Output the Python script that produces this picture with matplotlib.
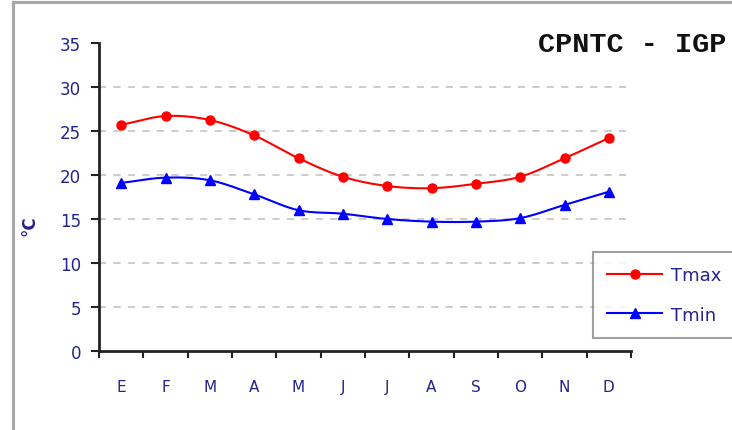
import numpy as np
import matplotlib
matplotlib.use("Agg")
import matplotlib.pyplot as plt
from matplotlib.patches import Rectangle
from matplotlib.lines import Line2D

months = ["E", "F", "M", "A", "M", "J", "J", "A", "S", "O", "N", "D"]
tmax = [25.7, 26.7, 26.25, 24.5, 21.9, 19.8, 18.75, 18.5, 19.0, 19.8, 21.9, 24.2]
tmin = [19.1, 19.7, 19.4, 17.8, 16.0, 15.6, 15.0, 14.7, 14.7, 15.1, 16.6, 18.1]
yticks = [0, 5, 10, 15, 20, 25, 30, 35]

NAVY = "#23238C"


def smooth(x, y, n=20):
    # Catmull-Rom spline through the data points (display smoothing like Excel)
    x = np.asarray(x, float)
    y = np.asarray(y, float)
    px = np.concatenate([[2 * x[0] - x[1]], x, [2 * x[-1] - x[-2]]])
    py = np.concatenate([[2 * y[0] - y[1]], y, [2 * y[-1] - y[-2]]])
    xs, ys = [], []
    t = np.linspace(0, 1, n, endpoint=False)
    for i in range(1, len(px) - 2):
        for arr, out in ((px, xs), (py, ys)):
            p0, p1, p2, p3 = arr[i - 1], arr[i], arr[i + 1], arr[i + 2]
            out.extend(0.5 * ((2 * p1) + (-p0 + p2) * t
                              + (2 * p0 - 5 * p1 + 4 * p2 - p3) * t ** 2
                              + (-p0 + 3 * p1 - 3 * p2 + p3) * t ** 3))
    xs.append(x[-1])
    ys.append(y[-1])
    return np.array(xs), np.array(ys)


W, H = 732, 431
fig = plt.figure(figsize=(W / 100, H / 100), dpi=100)
fig.patch.set_facecolor("white")

# outer gray frame
fig.patches.append(Rectangle((13 / W, -0.2), 1.5, 1.2 - 3 / H,
                             transform=fig.transFigure, fill=False,
                             edgecolor="#A8A8A8", lw=2.2, clip_on=False))

ax = fig.add_axes([99 / W, 1 - 352 / H, (631 - 99) / W, (352 - 44) / H])
x = np.arange(len(months))

sx, sy = smooth(x, tmax)
ax.plot(sx, sy, color="#FF0000", lw=1.5, zorder=3)
ax.plot(x, tmax, ls="none", marker="o", ms=6.5, color="#FF0000", zorder=4)
sx, sy = smooth(x, tmin)
ax.plot(sx, sy, color="#0000FF", lw=1.5, zorder=3)
ax.plot(x, tmin, ls="none", marker="^", ms=7.5, color="#0000FF", zorder=4)

ax.set_xlim(-0.5, len(months) - 0.5)
ax.set_ylim(0, 35)
ax.set_yticks(yticks)
ax.set_yticklabels([str(v) for v in yticks])
ax.tick_params(axis="y", direction="out", length=6, width=1.5, colors="#222222",
               labelcolor=NAVY, labelsize=12, pad=7)
ax.set_xticks(np.arange(-0.5, len(months), 1.0))
ax.set_xticklabels([])
ax.set_xticks(x, minor=True)
ax.set_xticklabels(months, minor=True)
ax.tick_params(axis="x", which="major", direction="out", length=5, width=1.5,
               colors="#222222")
ax.tick_params(axis="x", which="minor", length=0, labelcolor=NAVY,
               labelsize=11, pad=20)

for v in yticks[1:-1]:
    ax.axhline(v, color="#C8C8C8", lw=1.3, ls=(0, (4, 4)), zorder=1)

for s in ("top", "right"):
    ax.spines[s].set_visible(False)
for s in ("left", "bottom"):
    ax.spines[s].set_linewidth(2)
    ax.spines[s].set_color("#222222")

ax.set_facecolor("none")
fig.text(30 / W, 1 - 226 / H, "°C", rotation=90, color=NAVY, fontsize=12,
         fontweight="bold", ha="center", va="center")

fig.text(726 / W, 1 - 45 / H, "CPNTC - IGP", family="Liberation Mono",
         fontweight="bold", fontsize=20.5, ha="right", va="center", color="#111111")

handles = [Line2D([], [], color="#FF0000", marker="o", ms=6.5, lw=1.5),
           Line2D([], [], color="#0000FF", marker="^", ms=7.5, lw=1.5)]
leg = fig.legend(handles, ["Tmax", "Tmin"], loc="upper left",
                 bbox_to_anchor=(593 / W, 1 - 253 / H), frameon=True,
                 fancybox=False, edgecolor="#888888", fontsize=13,
                 labelcolor=NAVY, handlelength=3.0, borderpad=0.8,
                 labelspacing=1.18, handletextpad=0.5, borderaxespad=0)
leg.get_frame().set_linewidth(1.5)

fig.savefig("out.png", dpi=100)
